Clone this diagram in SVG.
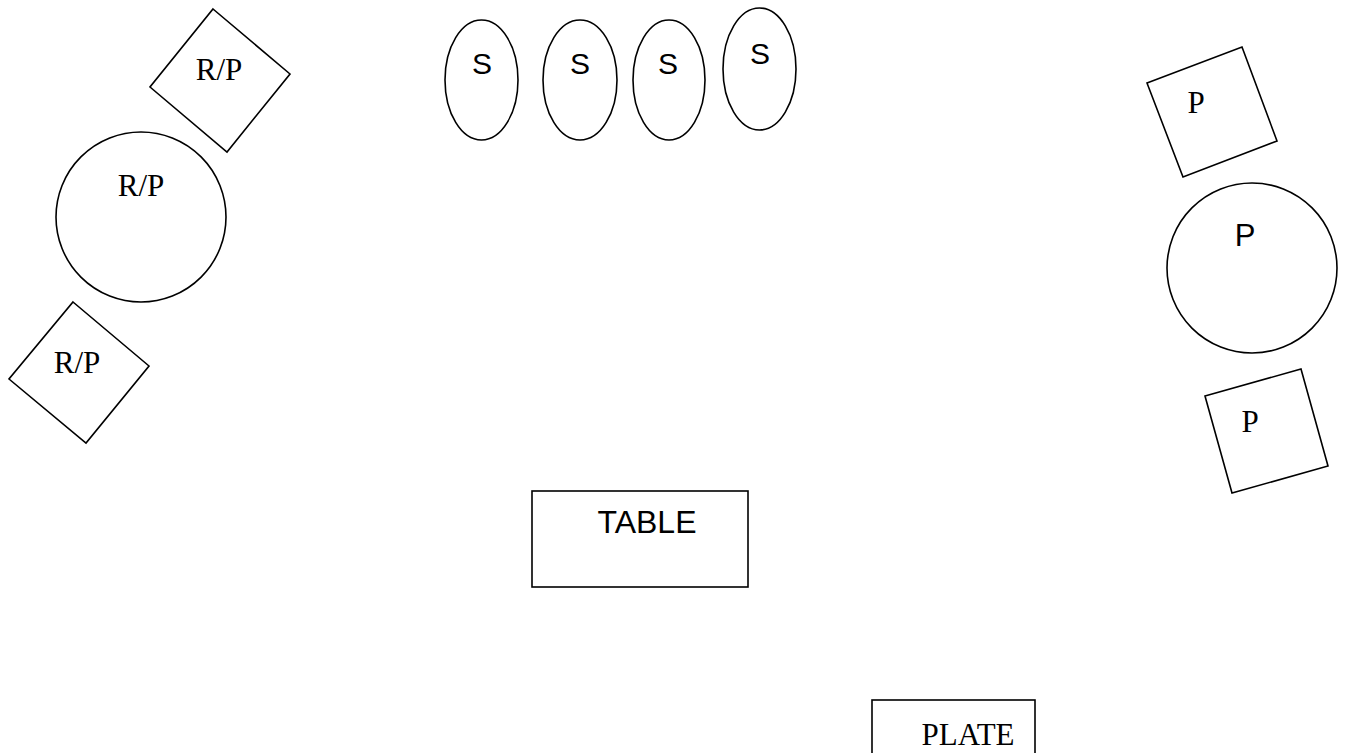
<svg xmlns="http://www.w3.org/2000/svg" width="1347" height="753" viewBox="0 0 1347 753">
<style>
.s{fill:#fff;stroke:#000;stroke-width:1.6}
.tr{font-family:"Liberation Serif",serif;font-size:31px;fill:#000;text-anchor:middle}
.ta{font-family:"Liberation Sans",sans-serif;font-size:30px;fill:#000;text-anchor:middle}
</style>
<rect width="1347" height="753" fill="#fff"/>
<g id="rp1"><polygon class="s" points="213,9 290,74 227,152 150,87"/><text class="tr" x="219" y="80">R/P</text></g>
<g id="rp2"><circle class="s" cx="141" cy="217" r="85"/><text class="tr" x="141" y="196">R/P</text></g>
<g id="rp3"><polygon class="s" points="73,302 149,366 86,443 9,379"/><text class="tr" x="77" y="373">R/P</text></g>
<g id="s1"><ellipse class="s" cx="481.5" cy="80" rx="36.5" ry="60"/><text class="ta" x="482" y="74">S</text></g>
<g id="s2"><ellipse class="s" cx="580" cy="80" rx="37" ry="60"/><text class="ta" x="580" y="74">S</text></g>
<g id="s3"><ellipse class="s" cx="669" cy="80" rx="36" ry="60"/><text class="ta" x="668" y="74">S</text></g>
<g id="s4"><ellipse class="s" cx="759.5" cy="69" rx="36.5" ry="61"/><text class="ta" x="760" y="64">S</text></g>
<g id="p1"><polygon class="s" points="1147,83 1242,47 1277,141 1183,177"/><text class="tr" x="1196" y="113">P</text></g>
<g id="p2"><circle class="s" cx="1252" cy="268" r="85"/><text class="ta" x="1245" y="246" style="font-size:31px">P</text></g>
<g id="p3"><polygon class="s" points="1205,396 1301,369 1328,466 1232,493"/><text class="tr" x="1250" y="432">P</text></g>
<g id="table"><rect class="s" x="532" y="491" width="216" height="96"/><text class="ta" x="647" y="533" style="font-size:32px">TABLE</text></g>
<g id="plate"><rect class="s" x="872" y="700" width="163" height="70"/><text class="tr" x="968" y="745">PLATE</text></g>
<g id="connectors"/>
</svg>
